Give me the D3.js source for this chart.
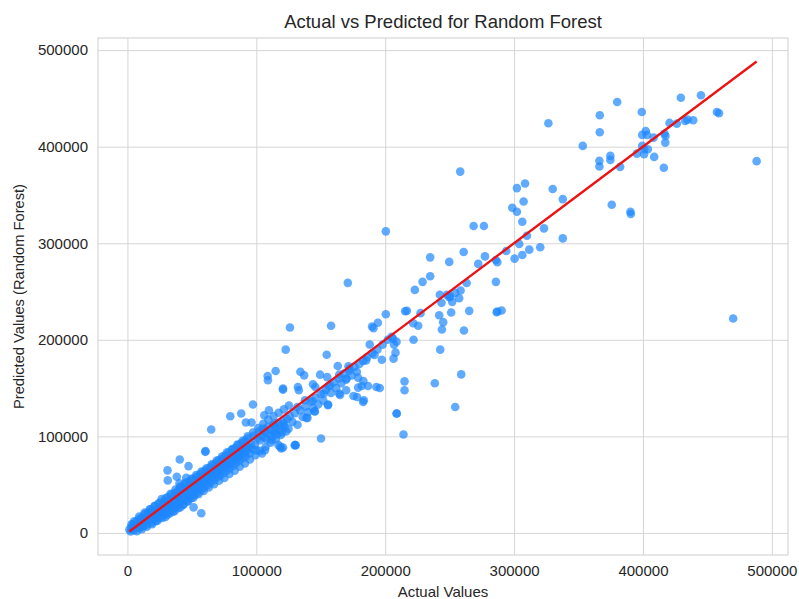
<!DOCTYPE html>
<html>
<head>
<meta charset="utf-8">
<script src="https://cdn.jsdelivr.net/npm/d3@7"></script>
<style>
  html, body { margin: 0; padding: 0; background: #ffffff; }
  svg { display: block; font-family: "Liberation Sans", Arial, sans-serif; }
</style>
</head>
<body>
<svg id="chart" width="799" height="599"></svg>
<script>
// ---------- DATA ----------
const chartTitle = "Actual vs Predicted for Random Forest";
const xLabel = "Actual Values";
const yLabel = "Predicted Values (Random Forest)";
const xTicks = [0, 100000, 200000, 300000, 400000, 500000];
const yTicks = [0, 100000, 200000, 300000, 400000, 500000];

// dense band (low values)
const actualLow = [1500,2500,3000,4000,4500,5000,6000,6500,7000,8000,8500,9000,9500,10000,10500,11000,11500,12000,12500,13000,13500,14000,14500,15000,15500,16000,16500,17000,17500,18000,18500,19000,19500,20000,20500,21000,21500,22000,22500,23000,23500,24000,24500,25000,25500,26000,26500,27000,27500,28000,28500,29000,29500,30000,30500,31000,31500,32000,32500,33000,33500,34000,34500,35000,35500,36000,36500,37000,37500,38000,38500,39000,39500,40000,40500,41000,41500,42000,42500,43000,43500,44000,44500,45000,45500,46000,46500,47000,47500,48000,48500,49000,49500,50000,50500,51000,51500,52000,52500,53000,53500,54000,54500,55000,55500,56000,56500,57000,57500,58000,58500,59000,59500,60000,60500,61000,61500,62000,62500,63000,63500,64000,64500,65000,65500,66000,66500,67000,67500,68000,68500,69000,69500,70000,70500,71000,71500,72000,72500,73000,73500,74000,74500,75000,75500,76000,76500,77000,77500,78000,78500,79000,79500,80000,80500,81000,81500,82000,82500,83000,83500,84000,84500,85000,85500,86000,86500,87000,87500,88000,88500,89000,89500,90000,90500,91000,91500,92000,92500,93000,93500,94000,95000,96000,97000,98000,99000,100000];
const predictedLow = [3500,1500,6000,4200,9000,2800,7500,11500,4800,9800,6500,14500,11000,5500,8800,16000,12500,9500,7000,14800,19500,11800,16500,8500,13500,21500,18000,12000,15500,24500,20000,10500,17500,22500,14500,27500,19000,12500,24000,17000,21000,30500,15000,26000,19500,23500,35000,18000,28500,22000,25500,32000,16500,27000,21000,37000,29500,24000,33000,20500,28000,39500,31000,25500,35000,29000,22500,41500,33500,27500,37500,43000,30000,35500,47000,26500,39500,33000,44500,37500,29500,41000,50500,35000,46000,40000,32500,48500,43000,38000,53000,45500,36000,49500,42500,56000,47000,39000,51500,44500,58000,49000,41500,54000,47500,60500,51000,44000,56500,50000,63000,54500,46500,59000,52500,65000,57000,49500,61500,55000,67500,59500,52000,64000,58000,70000,62000,54500,66500,60500,72500,64500,57500,69000,62500,75500,67000,59500,71500,65000,77000,69500,62000,73500,67500,80500,71500,64500,76000,70000,83000,74000,67000,78500,72000,86000,77000,69500,80500,75000,88000,79500,72500,83000,77500,91000,81500,75000,85500,80000,93000,84000,77500,88000,82000,95500,86500,79500,90500,85000,98000,89000,82500,92000,87000,100500,91500,85500];

// wider edge of the dense band
const actualEdge = [3200,5200,7300,9100,11200,13300,15100,17400,19200,21300,23100,25400,27200,29300,31100,33400,35200,37300,39100,41400,43200,45300,47100,49400,51200,53300,55100,57400,59200,61300,63100,65400,67200,69300,71100,73400,75200,77300,79100,81400,83200,85300,87100,89400,91200,93300,95100,97400,99200,101300,103100,105400,107200,109300,111100,113400,115200,117300,119100,121400,123200,125300];
const predictedEdge = [9000,12000,1800,17000,4000,21000,6500,24500,9000,28000,12500,31500,15500,35500,19000,40500,22000,45000,25500,48000,29000,52500,33000,56000,36500,60000,40000,63500,43500,67000,47000,71000,50500,75000,54000,79000,57000,83500,61000,87000,64500,91500,68500,95500,72000,100000,76000,104000,80500,108500,85000,113000,89000,117500,93500,121000,97000,124500,101500,128000,105000,132000];

// band continuing (mid values)
const actualMid = [101000,102000,103000,104000,105000,106000,107000,108000,109000,110000,111000,112000,113000,114000,115000,116000,117000,118000,119000,120000,121000,122000,124000,125000,126000,128000,130000,132000,134000,136000,138000,140000,142000,144000,146000,148000,150000,152000,154000,156000,158000,160000,162000,164000,166000,168000,170000,172000,174000,176000,178000,180000,183000,186000,190000,194000,198000,202000,205000];
const predictedMid = [98000,105000,96000,101000,108000,99000,104000,97000,110000,103000,107000,100000,112000,105000,109000,102000,114000,107000,111000,104000,116000,110000,118000,108000,121000,115000,124000,112000,127000,120000,131000,125000,136000,129000,140000,133000,144000,137000,148000,152000,145000,156000,150000,160000,155000,165000,160000,168000,163000,172000,167000,175000,178000,182000,186000,190000,195000,200000,203000];

// scattered points
const actualSpread = [97400,79800,88300,91900,96300,106200,109800,120700,109000,132300,114200,121400,106400,65000,60400,40600,47400,31100,31300,38300,40400,45600,57300,51300,104400,117300,119400,129800,112100,114800,115000,130500,118600,120700,106700,60600,138900,145300,155600,208800,130300,150200,
  158000,126100,122800,154600,188000,185200,191700,197400,193200,195800,186700,108800,134200,137100,149500,155000,163200,171500,164300,169700,179000,183100,181800,179000,178200,175400,172300,144000,145800,157200,152300,133000,120700,137800,143600,131900,155700,145400,139700,164300,165000,169700,182900,183400,
  171000,200500,200500,194300,189800,190900,206200,208800,206900,208000,206500,215000,215000,209000,214200,216800,215500,227400,221700,225600,222000,242700,259000,238500,254300,
  234900,249700,260900,272200,285900,229000,223000,234900,242400,249700,254300,258500,257400,252000,265200,251200,241900,245000,244000,261100,285900,286500,248000,250500,243700,263200,
  258200,268600,276600,277400,287000,293900,300400,306400,304000,310000,311800,320300,323200,337800,306400,298600,302200,307400,308500,302200,330000,337800,287000,290300,375800,390300,390600,
  326600,380000,366500,366500,399100,429400,445000,457400,459000,420600,426300,432800,439000,434600,399400,402200,403000,408200,416700,417500,417300,353300,399400,400900,403800,395300,400900,408700,416200,488200,374700,374700,366200,366200,382300,470000];
const predictedSpread = [133000,120900,123700,114400,114400,121900,127100,149500,158100,151200,113300,113300,106400,107100,84000,76100,69200,64800,54400,58200,51300,57100,20400,26500,82300,90900,87500,90900,96100,103000,167700,90900,89100,88500,85700,84700,119100,126000,132200,123700,90900,97800,
  214600,212800,189800,184600,195200,178700,184200,179400,151100,150100,152200,162500,167000,163200,163900,161400,172800,172500,163900,158800,160800,157300,152200,150500,140800,141800,170100,153900,151100,152800,144300,147700,148400,137400,136700,130500,133000,125800,119200,144300,142900,147700,135600,137400,
  259000,312300,226500,217700,213800,212100,201100,198000,194900,186700,180500,157000,147700,123700,102000,230000,229600,227600,217200,214600,200100,189800,164200,155000,130500,
  285400,280700,291000,278600,282700,260000,251700,265800,246600,244100,248600,251000,243100,239300,230000,228300,225500,218300,210700,209700,260000,228600,246500,245000,238300,258900,
  374200,317900,317900,286400,280300,292000,284100,287900,299300,307800,293400,295800,315400,305000,322300,336800,332600,343300,361900,357100,356100,345700,229300,230400,339900,332600,330300,
  424300,446300,432500,415000,435900,450700,453200,435900,434600,424600,423900,426600,427300,428000,412200,416300,412200,409400,413500,411100,404200,400800,400800,397400,397400,392800,392200,389400,378100,385000,390500,386300,385300,379400,379100,222000];

// ---------- BUILD ----------
const actual = actualLow.concat(actualEdge, actualMid, actualSpread);
const predicted = predictedLow.concat(predictedEdge, predictedMid, predictedSpread);
const points = actual.map((a, i) => ({ a, p: predicted[i] }));

const svg = d3.select("#chart");
const W = 799, H = 599;
const margin = { left: 98, right: 11, top: 38, bottom: 44 };
const pw = W - margin.left - margin.right;
const ph = H - margin.top - margin.bottom;

const [aMin, aMax] = d3.extent(actual);
const lineLo = aMin, lineHi = aMax;
const yLo = Math.min(d3.min(predicted), lineLo), yHi = Math.max(d3.max(predicted), lineHi);
const xPad = (aMax - aMin) * 0.05, yPad = (yHi - yLo) * 0.05;

const x = d3.scaleLinear().domain([aMin - xPad, aMax + xPad]).range([margin.left, margin.left + pw]);
const y = d3.scaleLinear().domain([yLo - yPad, yHi + yPad]).range([margin.top + ph, margin.top]);

const gridColor = "#d6d6d6";
const textColor = "#262626";
const font = "Liberation Sans, Arial, sans-serif";

// grid
svg.append("g")
  .attr("transform", `translate(0,${margin.top + ph})`)
  .call(d3.axisBottom(x).tickValues(xTicks).tickSize(-ph).tickFormat(""))
  .call(g => g.select(".domain").remove())
  .call(g => g.selectAll("line").attr("stroke", gridColor).attr("stroke-width", 1));
svg.append("g")
  .attr("transform", `translate(${margin.left},0)`)
  .call(d3.axisLeft(y).tickValues(yTicks).tickSize(-pw).tickFormat(""))
  .call(g => g.select(".domain").remove())
  .call(g => g.selectAll("line").attr("stroke", gridColor).attr("stroke-width", 1));

// frame
svg.append("rect")
  .attr("x", margin.left).attr("y", margin.top)
  .attr("width", pw).attr("height", ph)
  .attr("fill", "none").attr("stroke", gridColor).attr("stroke-width", 1.2);

// tick labels
svg.append("g")
  .attr("transform", `translate(0,${margin.top + ph})`)
  .call(d3.axisBottom(x).tickValues(xTicks).tickSize(0).tickPadding(10).tickFormat(d3.format("d")))
  .call(g => g.select(".domain").remove())
  .call(g => g.selectAll("text").attr("fill", textColor).attr("font-size", 15).attr("font-family", font));
svg.append("g")
  .attr("transform", `translate(${margin.left},0)`)
  .call(d3.axisLeft(y).tickValues(yTicks).tickSize(0).tickPadding(10).tickFormat(d3.format("d")))
  .call(g => g.select(".domain").remove())
  .call(g => g.selectAll("text").attr("fill", textColor).attr("font-size", 15).attr("font-family", font));

// points
svg.append("g")
  .selectAll("circle")
  .data(points)
  .join("circle")
  .attr("cx", d => x(d.a))
  .attr("cy", d => y(d.p))
  .attr("r", 4.3)
  .attr("fill", "#1e88ff")
  .attr("fill-opacity", 0.7);

// perfect prediction line
svg.append("line")
  .attr("x1", x(lineLo)).attr("y1", y(lineLo))
  .attr("x2", x(lineHi)).attr("y2", y(lineHi))
  .attr("stroke", "#ee1111").attr("stroke-width", 2.3);

// title and labels
svg.append("text")
  .attr("x", margin.left + pw / 2).attr("y", 28)
  .attr("text-anchor", "middle").attr("font-size", 18.5).attr("fill", textColor)
  .text(chartTitle);
svg.append("text")
  .attr("x", margin.left + pw / 2).attr("y", 597)
  .attr("text-anchor", "middle").attr("font-size", 15).attr("fill", textColor)
  .text(xLabel);
svg.append("text")
  .attr("transform", `translate(24,${margin.top + ph / 2}) rotate(-90)`)
  .attr("text-anchor", "middle").attr("font-size", 14.7).attr("fill", textColor)
  .text(yLabel);
</script>
</body>
</html>
